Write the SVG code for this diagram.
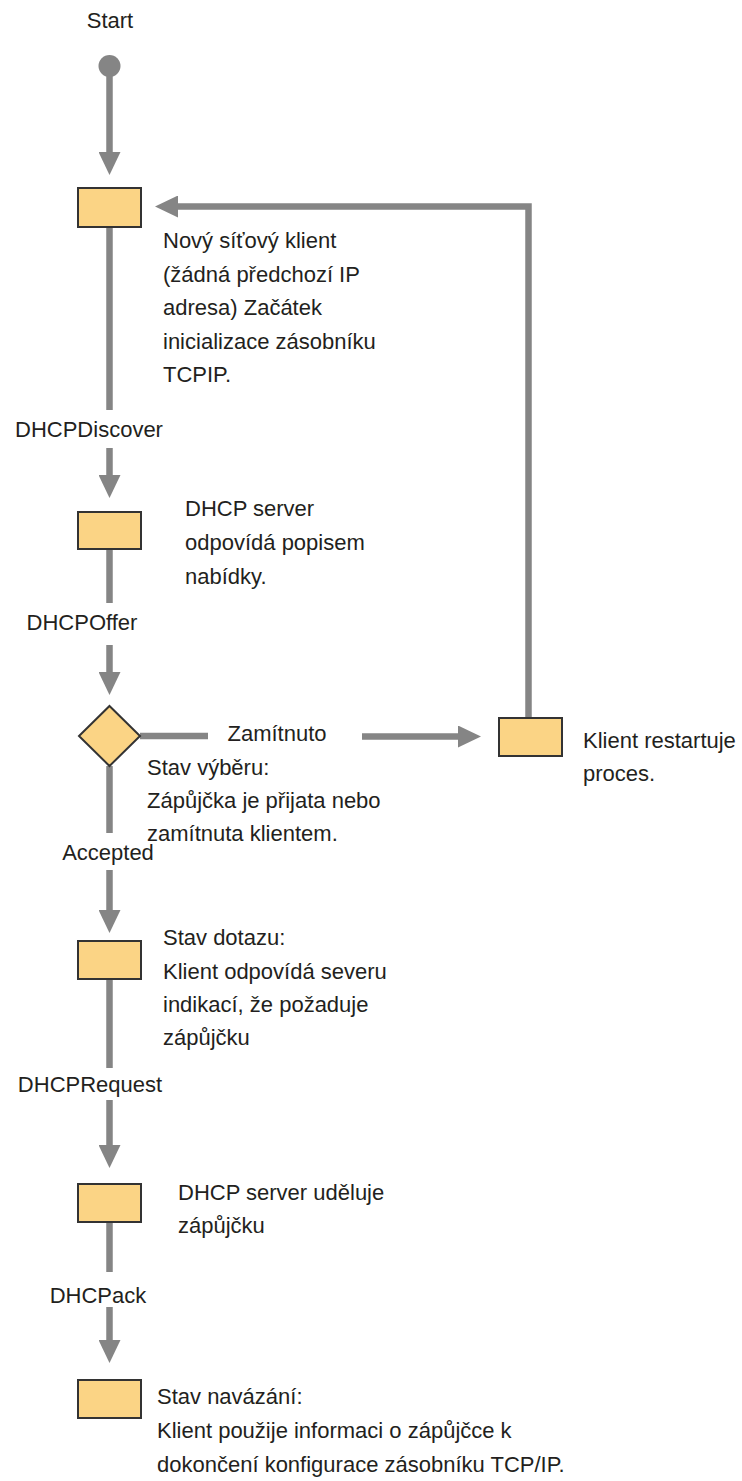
<svg xmlns="http://www.w3.org/2000/svg" width="742" height="1481" viewBox="0 0 742 1481">
<style>
.t{font-family:"Liberation Sans",Arial,sans-serif;font-size:22px;fill:#231f20}
.m{text-anchor:middle}
.box{fill:#fbd485;stroke:#333;stroke-width:2}
.ln{stroke:#858585;stroke-width:6.5;fill:none}
</style>
<defs>
<marker id="arr" viewBox="0 0 23 22" refX="2" refY="11" markerWidth="23" markerHeight="22" orient="auto" markerUnits="userSpaceOnUse">
<path d="M0,0 L23,11 L0,22 z" fill="#858585"/>
</marker>
</defs>
<rect width="742" height="1481" fill="#fff"/>
<g id="connectors">
<line class="ln" x1="109.5" y1="66" x2="109.5" y2="154" marker-end="url(#arr)"/>
<line class="ln" x1="109.5" y1="227" x2="109.5" y2="410"/>
<line class="ln" x1="109.5" y1="448" x2="109.5" y2="477" marker-end="url(#arr)"/>
<line class="ln" x1="109.5" y1="549" x2="109.5" y2="603"/>
<line class="ln" x1="109.5" y1="645" x2="109.5" y2="674" marker-end="url(#arr)"/>
<line class="ln" x1="109.5" y1="766" x2="109.5" y2="833"/>
<line class="ln" x1="109.5" y1="870" x2="109.5" y2="912" marker-end="url(#arr)"/>
<line class="ln" x1="109.5" y1="979" x2="109.5" y2="1068"/>
<line class="ln" x1="109.5" y1="1100" x2="109.5" y2="1147" marker-end="url(#arr)"/>
<line class="ln" x1="109.5" y1="1222" x2="109.5" y2="1272"/>
<line class="ln" x1="109.5" y1="1307" x2="109.5" y2="1342" marker-end="url(#arr)"/>
<line class="ln" x1="140" y1="736" x2="208" y2="736"/>
<line class="ln" x1="362" y1="736.5" x2="460" y2="736.5" marker-end="url(#arr)"/>
<polyline class="ln" points="528.5,718 528.5,206.5 176,206.5" marker-end="url(#arr)"/>
</g>
<g id="start">
<text class="t m" x="110" y="28">Start</text>
<circle cx="109.5" cy="66" r="11" fill="#858585"/>
</g>
<g id="n1">
<rect class="box" x="78" y="188" width="63" height="39"/>
<text class="t" x="163" y="248">Nový síťový klient</text>
<text class="t" x="163" y="281.5">(žádná předchozí IP</text>
<text class="t" x="163" y="315">adresa) Začátek</text>
<text class="t" x="163" y="348.5">inicializace zásobníku</text>
<text class="t" x="163" y="382">TCPIP.</text>
</g>
<g id="l1"><text class="t m" x="89" y="437">DHCPDiscover</text></g>
<g id="n2">
<rect class="box" x="78" y="512" width="63" height="37"/>
<text class="t" x="185" y="516">DHCP server</text>
<text class="t" x="185" y="550">odpovídá popisem</text>
<text class="t" x="185" y="584">nabídky.</text>
</g>
<g id="l2"><text class="t m" x="82" y="630">DHCPOffer</text></g>
<g id="decision">
<polygon class="box" points="109.5,706 140,736 109.5,766 79,736"/>
<text class="t" x="147" y="775">Stav výběru:</text>
<text class="t" x="147" y="808">Zápůjčka je přijata nebo</text>
<text class="t" x="147" y="841">zamítnuta klientem.</text>
</g>
<g id="l3"><text class="t m" x="277" y="741">Zamítnuto</text></g>
<g id="restart">
<rect class="box" x="499" y="718" width="63" height="38"/>
<text class="t" x="583" y="748">Klient restartuje</text>
<text class="t" x="583" y="781">proces.</text>
</g>
<g id="l4"><text class="t m" x="108" y="860">Accepted</text></g>
<g id="n4">
<rect class="box" x="78" y="941" width="63" height="38"/>
<text class="t" x="163" y="945">Stav dotazu:</text>
<text class="t" x="163" y="979">Klient odpovídá severu</text>
<text class="t" x="163" y="1012">indikací, že požaduje</text>
<text class="t" x="163" y="1045">zápůjčku</text>
</g>
<g id="l5"><text class="t m" x="90" y="1092">DHCPRequest</text></g>
<g id="n5">
<rect class="box" x="78" y="1184" width="63" height="38"/>
<text class="t" x="178" y="1200">DHCP server uděluje</text>
<text class="t" x="178" y="1233">zápůjčku</text>
</g>
<g id="l6"><text class="t m" x="98" y="1303">DHCPack</text></g>
<g id="n6">
<rect class="box" x="78" y="1380" width="63" height="38"/>
<text class="t" x="157" y="1404">Stav navázání:</text>
<text class="t" x="157" y="1438">Klient použije informaci o zápůjčce k</text>
<text class="t" x="157" y="1472">dokončení konfigurace zásobníku TCP/IP.</text>
</g>
</svg>
